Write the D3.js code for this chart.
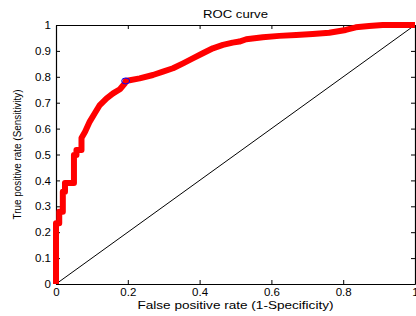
<!DOCTYPE html>
<html>
<head>
<meta charset="utf-8">
<script src="https://cdn.jsdelivr.net/npm/d3@7"></script>
<style>
  body { margin: 0; background: #fff; }
  text { font-family: "Liberation Sans", Arial, sans-serif; fill: #000; }
</style>
</head>
<body>
<svg id="chart" width="416" height="316"></svg>
<script>
// ROC curve points
var fpr = [0, 0, 0.009, 0.009, 0.019, 0.019, 0.025, 0.025, 0.05, 0.05, 0.057, 0.057, 0.071, 0.071, 0.081,
           0.094, 0.108, 0.122, 0.141, 0.159, 0.178, 0.192, 0.194, 0.233, 0.270, 0.298, 0.326, 0.354,
           0.381, 0.409, 0.437, 0.465, 0.492, 0.511, 0.530, 0.576, 0.622, 0.669, 0.715, 0.761, 0.807,
           0.835, 0.872, 0.91, 1]
var tpr = [0, 0.235, 0.235, 0.279, 0.279, 0.356, 0.356, 0.39, 0.39, 0.498, 0.498, 0.517, 0.517, 0.564, 0.588,
           0.627, 0.659, 0.691, 0.717, 0.736, 0.752, 0.775, 0.784, 0.794, 0.807, 0.820, 0.833, 0.852,
           0.871, 0.891, 0.910, 0.923, 0.932, 0.936, 0.945, 0.953, 0.958, 0.961, 0.965, 0.970, 0.981,
           0.991, 0.996, 1, 1]

// operating point (blue circle)
var cutFpr = 0.194
var cutTpr = 0.784

var xTicks = [0, 0.2, 0.4, 0.6, 0.8, 1]
var yTicks = [0, 0.1, 0.2, 0.3, 0.4, 0.5, 0.6, 0.7, 0.8, 0.9, 1]

//plot box in pixels
const boxLeft = 56, boxRight = 415, boxTop = 25, boxBottom = 284

const svg = d3.select('#chart')

const x = d3.scaleLinear().domain([0, 1]).range([boxLeft, boxRight])
const y = d3.scaleLinear().domain([0, 1]).range([boxBottom, boxTop])

const tickFmt = d => d === 0 || d === 1 ? String(d) : d3.format('.1f')(d)

//axes with inward ticks
svg.append('g').attr('transform', `translate(0,${boxBottom})`)
  .call(d3.axisBottom(x).tickValues(xTicks).tickFormat(tickFmt).tickSizeInner(-4).tickSizeOuter(0).tickPadding(4))
svg.append('g').attr('transform', `translate(${boxLeft},0)`)
  .call(d3.axisLeft(y).tickValues(yTicks).tickFormat(tickFmt).tickSizeInner(-4).tickSizeOuter(0).tickPadding(5))
svg.append('g').attr('transform', `translate(0,${boxTop})`)
  .call(d3.axisTop(x).tickValues(xTicks).tickFormat('').tickSizeInner(-4).tickSizeOuter(0))
svg.append('g').attr('transform', `translate(${boxRight},0)`)
  .call(d3.axisRight(y).tickValues(yTicks).tickFormat('').tickSizeInner(-4).tickSizeOuter(0))

svg.selectAll('.domain').attr('stroke', '#000').attr('stroke-width', 1.2)
svg.selectAll('.tick line').attr('stroke', '#000')
svg.selectAll('.tick text').style('font-size', '11.5px')

//diagonal reference line
svg.append('line')
  .attr('x1', x(0)).attr('y1', y(0))
  .attr('x2', x(1)).attr('y2', y(1))
  .attr('stroke', '#000').attr('stroke-width', 1)

//roc curve
const line = d3.line().x((d, i) => x(fpr[i])).y((d, i) => y(tpr[i]))
svg.append('path')
  .attr('d', line(fpr))
  .attr('fill', 'none')
  .attr('stroke', '#ff0000')
  .attr('stroke-width', 6)
  .attr('stroke-linejoin', 'round')

svg.append('ellipse')
  .attr('cx', x(cutFpr)).attr('cy', y(cutTpr))
  .attr('rx', 4).attr('ry', 3)
  .attr('fill', 'none').attr('stroke', '#0000ff').attr('stroke-width', 1)

//title and labels
svg.append('text')
  .attr('x', (boxLeft + boxRight) / 2).attr('y', 18)
  .attr('text-anchor', 'middle')
  .style('font-size', '11px')
  .attr('textLength', 65).attr('lengthAdjust', 'spacingAndGlyphs')
  .text('ROC curve')

svg.append('text')
  .attr('x', (boxLeft + boxRight) / 2).attr('y', 309)
  .attr('text-anchor', 'middle')
  .style('font-size', '11px')
  .attr('textLength', 196).attr('lengthAdjust', 'spacingAndGlyphs')
  .text('False positive rate (1-Specificity)')

svg.append('text')
  .attr('transform', `translate(21,${(boxTop + boxBottom) / 2}) rotate(-90)`)
  .attr('text-anchor', 'middle')
  .style('font-size', '10px')
  .attr('textLength', 130).attr('lengthAdjust', 'spacingAndGlyphs')
  .text('True positive rate (Sensitivity)')
</script>
</body>
</html>
